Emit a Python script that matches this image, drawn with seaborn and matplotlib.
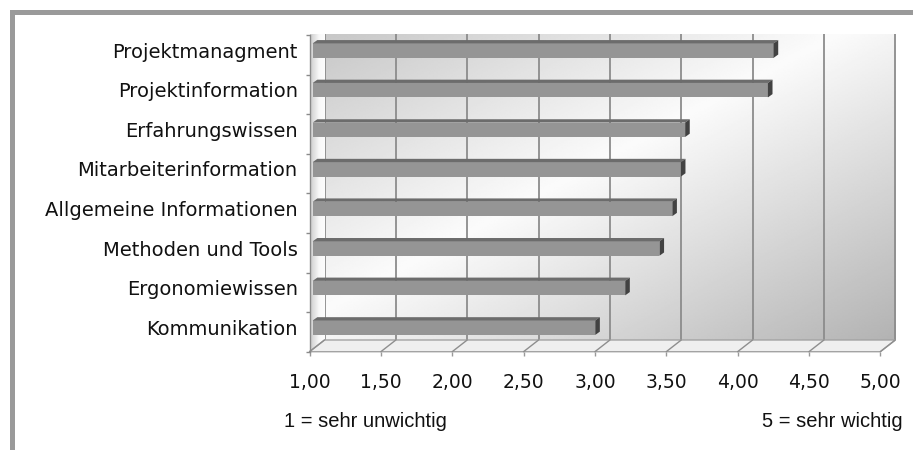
import numpy as np
import pandas as pd
import matplotlib
matplotlib.use("Agg")
import matplotlib.pyplot as plt
from matplotlib.patches import Polygon, Rectangle
from matplotlib.transforms import ScaledTranslation, IdentityTransform
import seaborn as sns

# ---- data -------------------------------------------------------------
categories = [
    "Projektmanagment",
    "Projektinformation",
    "Erfahrungswissen",
    "Mitarbeiterinformation",
    "Allgemeine Informationen",
    "Methoden und Tools",
    "Ergonomiewissen",
    "Kommunikation",
]
ratings = [4.23, 4.19, 3.61, 3.58, 3.52, 3.43, 3.19, 2.98]
scale_ticks = [1.0, 1.5, 2.0, 2.5, 3.0, 3.5, 4.0, 4.5, 5.0]
tick_labels = ["1,00", "1,50", "2,00", "2,50", "3,00", "3,50", "4,00", "4,50", "5,00"]
scale_low = "1 = sehr unwichtig"
scale_high = "5 = sehr wichtig"

# ---- figure geometry (pixels) ------------------------------------------
W, H, DPI = 913, 450, 100
sns.set_theme(style="white")
plt.rcParams["font.family"] = ["DejaVu Sans"]

fig = plt.figure(figsize=(W / DPI, H / DPI), dpi=DPI)
fig.patch.set_facecolor("white")


def px_rect(x0, y0, x1, y1):
    """Pixel box (y measured from the top) -> figure fraction rect."""
    return [x0 / W, 1 - y1 / H, (x1 - x0) / W, (y1 - y0) / H]


def px(x, y):
    """Pixel point (y from top) -> display coordinates."""
    return (x, H - y)


# front plane of the pseudo-3D box and its depth offset towards the back wall
FX0, FX1, FY0, FY1 = 309.5, 880.3, 35.0, 351.7
DX, DY = 15.0, 11.7
BACK_TOP = 34.0

# ---- back wall with diagonal shading and gridlines ----------------------
ax_back = fig.add_axes(px_rect(FX0 + DX, BACK_TOP, FX1 + DX, FY1 - DY), zorder=0)
u = np.linspace(0, 1, 400)[None, :]
v = np.linspace(0, 1, 200)[:, None]
t = (u + v) / 2
shade = np.interp(t, [0.0, 0.45, 1.0], [0.78, 0.985, 0.70])
ax_back.imshow(shade, cmap="gray", vmin=0, vmax=1, extent=[1, 5, 0, 1],
               origin="upper", aspect="auto", interpolation="bilinear")
ax_back.vlines(scale_ticks, 0, 1, colors="#8c8c8c", lw=1.3, clip_on=False)
ax_back.set_xlim(1, 5)
ax_back.set_ylim(0, 1)
ax_back.axis("off")

# ---- left side wall ------------------------------------------------------
ax_wall = fig.add_axes(px_rect(FX0, BACK_TOP, FX0 + DX, FY1), zorder=0.5)
wall = np.interp(np.linspace(0, 1, 50), [0, 0.6, 1], [0.80, 0.97, 0.99])[None, :]
ax_wall.imshow(wall, cmap="gray", vmin=0, vmax=1, extent=[0, 1, 0, 1],
               aspect="auto", interpolation="bilinear")
ax_wall.axis("off")

# ---- floor ---------------------------------------------------------------
floor = Polygon([px(FX0, FY1), px(FX0 + DX, FY1 - DY), px(FX1 + DX, FY1 - DY), px(FX1, FY1)],
                closed=True, transform=IdentityTransform(), facecolor="#efefef",
                edgecolor="#a3a3a3", lw=1.0, zorder=1)
fig.add_artist(floor)

# ---- bars on the front plane --------------------------------------------
ax = fig.add_axes(px_rect(FX0, FY0, FX1, FY1), zorder=2)
ax.patch.set_alpha(0)

df = pd.DataFrame({"Thema": categories, "Bewertung": ratings})
sns.barplot(data=df, x="Bewertung", y="Thema", orient="h", color="#959595",
            saturation=1, width=0.365, errorbar=None, ax=ax)
ax.set_xlim(1, 5)
ax.set_ylim(len(categories) - 0.5, -0.5)
ax.set_xlabel("")
ax.set_ylabel("")

# floor ticks: slanted lines from the front edge to the back wall
for val in scale_ticks:
    x0, y0 = ax.transData.transform((val, len(categories) - 0.5))
    fig.add_artist(plt.Line2D([x0, x0 + DX], [y0, y0 + DY], transform=IdentityTransform(),
                              color="#8e8e8e", lw=1.0, zorder=1.5))

# bars sit a little behind the front plane; give them a top face and an end cap
bar_shift = ScaledTranslation(3.2 / DPI, 4.2 / DPI, fig.dpi_scale_trans)
bx, by = 4.6, 3.3
for p in list(ax.patches):
    val = p.get_width()
    p.set_x(1.0)
    p.set_width(val - 1.0)
    p.set_edgecolor("none")
    p.set_transform(ax.transData + bar_shift)
    trans = ax.transData + bar_shift
    y0, h = p.get_y(), p.get_height()
    (xl, ya), (xr, yb) = trans.transform([(1.0, y0), (val, y0 + h)])
    ytop, ybot = max(ya, yb), min(ya, yb)
    top = Polygon([(xl, ytop), (xr, ytop), (xr + bx, ytop + by), (xl + bx, ytop + by)],
                  closed=True, transform=IdentityTransform(), facecolor="#6c6c6c",
                  edgecolor="none", zorder=3)
    cap = Polygon([(xr, ybot), (xr, ytop), (xr + bx, ytop + by), (xr + bx, ybot + by)],
                  closed=True, transform=IdentityTransform(), facecolor="#424242",
                  edgecolor="none", zorder=3)
    ax.add_patch(top)
    ax.add_patch(cap)

# ---- axes styling ----------------------------------------------------------
for side in ["top", "right", "bottom"]:
    ax.spines[side].set_visible(False)
ax.spines["left"].set_color("#8a8a8a")
ax.spines["left"].set_linewidth(1.0)

ax.set_xticks(scale_ticks, labels=tick_labels)
ax.set_yticks(np.arange(len(categories) + 1) - 0.5, minor=True)
ax.tick_params(axis="x", which="major", bottom=True, length=2.6, width=1.0,
               color="#999999", direction="out", pad=12.5, labelsize=13.5,
               labelcolor="#111111")
ax.tick_params(axis="y", which="major", left=False, length=0, pad=8.5,
               labelsize=14, labelcolor="#111111")
ax.tick_params(axis="y", which="minor", left=True, length=2.6, width=1.0,
               color="#8a8a8a", direction="out")

label_shift = ScaledTranslation(0, 4.6 / DPI, fig.dpi_scale_trans)
for lbl in ax.get_yticklabels():
    lbl.set_transform(lbl.get_transform() + label_shift)

# ---- scale notes below the axis ----------------------------------------------
fig.text(284 / W, 1 - 427 / H, scale_low, ha="left", va="baseline", fontsize=14.5,
         family=["Liberation Sans", "DejaVu Sans"], color="#111111")
fig.text(903 / W, 1 - 427 / H, scale_high, ha="right", va="baseline", fontsize=14.5,
         family=["Liberation Sans", "DejaVu Sans"], color="#111111")

# ---- outer frame (top and left edges) ------------------------------------------
fig.add_artist(Rectangle((10 / W, 1 - 15 / H), (W - 10) / W, 5 / H,
                         transform=fig.transFigure, facecolor="#9a9a9a", edgecolor="none"))
fig.add_artist(Rectangle((10 / W, 0), 5 / W, 1 - 10 / H,
                         transform=fig.transFigure, facecolor="#9a9a9a", edgecolor="none"))

fig.savefig("out.png", dpi=DPI, facecolor="white")
